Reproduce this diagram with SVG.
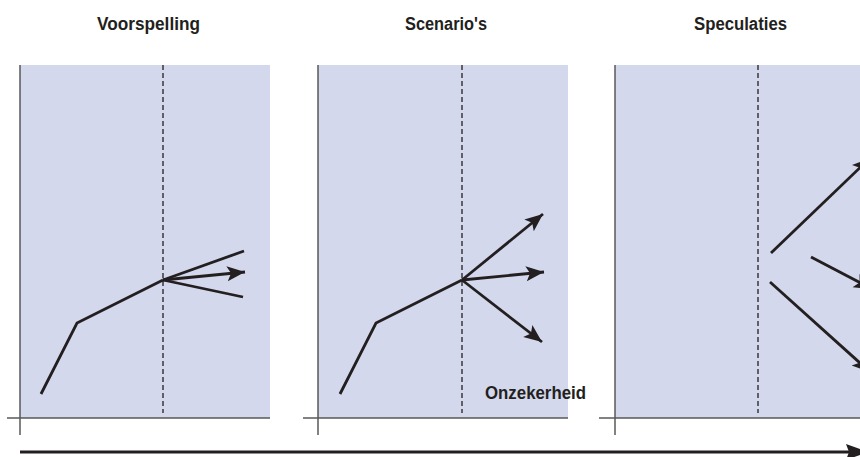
<svg xmlns="http://www.w3.org/2000/svg" width="860" height="457" viewBox="0 0 860 457">
<style>
.bg{fill:#d3d8ec}
.axis{stroke:#58585a;stroke-width:1.5;fill:none}
.dash{stroke:#231f20;stroke-width:1.3;stroke-dasharray:5 3;fill:none}
.ln{stroke:#231f20;stroke-width:2.8;fill:none;stroke-linejoin:miter}
.arr{stroke:#231f20;stroke-width:2.8;fill:none;marker-end:url(#ah)}
.t{font-family:"Liberation Sans",Arial,sans-serif;font-weight:bold;font-size:18px;fill:#231f20}
</style>
<defs>
<marker id="ah" markerUnits="userSpaceOnUse" markerWidth="20" markerHeight="16" refX="18" refY="7.5" orient="auto">
<path d="M0,0 L18,7.5 L0,15 L4,7.5 z" fill="#231f20"/>
</marker>
<marker id="ahb" markerUnits="userSpaceOnUse" markerWidth="24" markerHeight="18" refX="22" refY="8" orient="auto">
<path d="M0,0 L22,8 L0,16 L3,8 z" fill="#231f20"/>
</marker>
</defs>

<g id="panel-voorspelling">
<rect class="bg" x="20" y="65" width="250" height="353"/>
<line class="axis" x1="20" y1="65" x2="20" y2="435"/>
<line class="axis" x1="7" y1="418" x2="270" y2="418"/>
<line class="dash" x1="163" y1="65" x2="163" y2="413"/>
<text class="t" x="97" y="30" textLength="103" lengthAdjust="spacingAndGlyphs">Voorspelling</text>
</g>

<g id="panel-scenarios">
<rect class="bg" x="318" y="65" width="250" height="353"/>
<line class="axis" x1="318" y1="65" x2="318" y2="435"/>
<line class="axis" x1="303" y1="418" x2="568" y2="418"/>
<line class="dash" x1="462" y1="65" x2="462" y2="413"/>
<text class="t" x="405" y="30" textLength="82" lengthAdjust="spacingAndGlyphs">Scenario's</text>
<text class="t" x="485" y="399" textLength="101" lengthAdjust="spacingAndGlyphs">Onzekerheid</text>
</g>

<g id="panel-speculaties">
<rect class="bg" x="615" y="65" width="250" height="353"/>
<line class="axis" x1="615" y1="65" x2="615" y2="435"/>
<line class="axis" x1="599" y1="418" x2="860" y2="418"/>
<line class="dash" x1="758" y1="65" x2="758" y2="413"/>
<text class="t" x="694" y="30" textLength="93" lengthAdjust="spacingAndGlyphs">Speculaties</text>
</g>

<g id="connectors">
<polyline class="ln" points="41,394 77,323 163,280"/>
<line class="ln" x1="163" y1="280" x2="244" y2="251"/>
<line class="arr" x1="163" y1="280" x2="245" y2="272"/>
<line class="ln" x1="163" y1="280" x2="243" y2="297"/>

<polyline class="ln" points="340,394 376,323 462,280"/>
<line class="arr" x1="462" y1="280" x2="543" y2="214"/>
<line class="arr" x1="462" y1="280" x2="544" y2="272"/>
<line class="arr" x1="462" y1="280" x2="542" y2="342"/>

<line class="arr" x1="771" y1="253" x2="870" y2="158"/>
<line class="arr" x1="811" y1="257" x2="872" y2="289"/>
<line class="arr" x1="770" y1="282" x2="870" y2="372"/>

<line x1="20" y1="452" x2="868" y2="452" stroke="#231f20" stroke-width="3.2" marker-end="url(#ahb)"/>
</g>
</svg>
